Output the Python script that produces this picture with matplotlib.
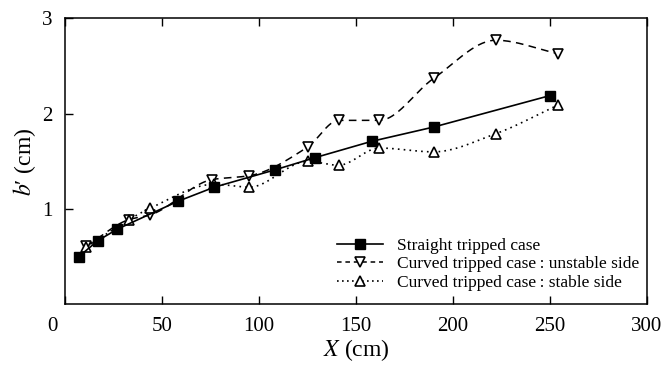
import numpy as np
import matplotlib
matplotlib.use("Agg")
import matplotlib.pyplot as plt
from matplotlib.transforms import ScaledTranslation
from matplotlib.lines import Line2D

# ---- data ----
straight_x = [7, 17, 27, 58, 77, 108, 129, 158, 190, 250]
straight_y = [0.50, 0.67, 0.79, 1.08, 1.23, 1.41, 1.54, 1.71, 1.86, 2.19]

unstable_x = [11, 33, 44, 76, 95, 125, 141, 162, 190, 222, 254]
unstable_y = [0.61, 0.89, 0.94, 1.31, 1.35, 1.65, 1.93, 1.93, 2.37, 2.77, 2.63]

stable_x = [11, 33, 44, 77, 95, 125, 141, 162, 190, 222, 254]
stable_y = [0.60, 0.89, 1.01, 1.26, 1.23, 1.50, 1.46, 1.64, 1.60, 1.79, 2.09]

x_ticks = [0, 50, 100, 150, 200, 250, 300]
y_ticks = [1, 2, 3]
labels = ["Straight tripped case",
          "Curved tripped case\u2009: unstable side",
          "Curved tripped case\u2009: stable side"]


def pchip(x, y, n=400):
    x = np.asarray(x, float)
    y = np.asarray(y, float)
    h = np.diff(x)
    d = np.diff(y) / h
    m = np.zeros_like(y)
    for k in range(1, len(x) - 1):
        if d[k - 1] * d[k] > 0:
            w1 = 2 * h[k] + h[k - 1]
            w2 = h[k] + 2 * h[k - 1]
            m[k] = (w1 + w2) / (w1 / d[k - 1] + w2 / d[k])
    m[0] = d[0]
    m[-1] = d[-1]
    xs = np.linspace(x[0], x[-1], n)
    idx = np.clip(np.searchsorted(x, xs) - 1, 0, len(x) - 2)
    t = (xs - x[idx]) / h[idx]
    h00 = 2 * t**3 - 3 * t**2 + 1
    h10 = t**3 - 2 * t**2 + t
    h01 = -2 * t**3 + 3 * t**2
    h11 = t**3 - t**2
    ys = h00 * y[idx] + h10 * h[idx] * m[idx] + h01 * y[idx + 1] + h11 * h[idx] * m[idx + 1]
    return xs, ys


plt.rcParams['font.family'] = ['Liberation Serif', 'DejaVu Serif']
plt.rcParams['mathtext.fontset'] = 'stix'

fig = plt.figure(figsize=(6.65, 3.72), dpi=100)
ax = fig.add_axes([0.0977, 0.1815, 0.8753, 0.7693])

ax.plot(straight_x, straight_y, '-', color='black', lw=1.2,
        marker='s', ms=7.5, mfc='black', mec='black', zorder=4)

ux, uy = pchip(unstable_x, unstable_y)
ax.plot(ux, uy, color='black', lw=1.1, ls=(0, (5, 3.5)), zorder=2)
ax.plot(unstable_x, unstable_y, ls='none', marker='v', ms=6.5,
        mfc='white', mec='black', mew=1.2, zorder=3)

sx, sy = pchip(stable_x, stable_y)
ax.plot(sx, sy, color='black', lw=1.2, ls=(0, (1, 2.5)), zorder=2)
ax.plot(stable_x, stable_y, ls='none', marker='^', ms=6.5,
        mfc='white', mec='black', mew=1.2, zorder=3)

ax.set_xlim(0, 300)
ax.set_ylim(0, 3)
ax.set_xticks(x_ticks)
ax.set_yticks(y_ticks)
ax.tick_params(axis='x', direction='in', top=True, bottom=True, length=6,
               width=1.0, labelsize=15, pad=9)
ax.tick_params(axis='y', direction='in', left=True, right=False, length=6,
               width=1.0, labelsize=15, pad=9)
for sp in ax.spines.values():
    sp.set_linewidth(1.1)

# shift the "0" label toward the corner
lab0 = ax.get_xticklabels()[0]
lab0.set_transform(lab0.get_transform() + ScaledTranslation(-13 / 100, 0, fig.dpi_scale_trans))

ax.set_xlabel(r"$X$ (cm)", fontsize=17, labelpad=1)
ax.set_ylabel("$b$\u2032 (cm)", fontsize=17, labelpad=3)

handles = [
    Line2D([], [], color='black', lw=1.2, marker='s', ms=7.5, mfc='black', mec='black'),
    Line2D([], [], color='black', lw=1.1, ls=(0, (3, 2.5)), marker='v', ms=6.5,
           mfc='white', mec='black', mew=1.2),
    Line2D([], [], color='black', lw=1.2, ls=(0, (1, 2)), marker='^', ms=6.5,
           mfc='white', mec='black', mew=1.2),
]
ax.legend(handles, labels, loc='lower right', bbox_to_anchor=(0.999, 0.024),
          frameon=False, fontsize=12.5, handlelength=2.65, handletextpad=0.85,
          labelspacing=0.12, borderaxespad=0)

fig.savefig("out.png", dpi=100)
